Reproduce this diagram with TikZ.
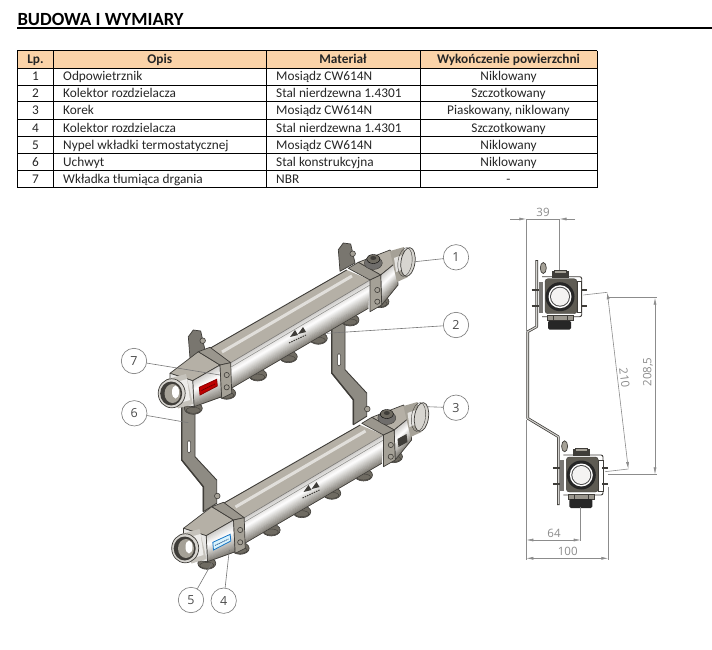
\documentclass[tikz,border=0pt]{standalone}
\usepackage{fontspec}
\setmainfont{Carlito}
\newfontfamily\dimfont{Open Sans}
\usetikzlibrary{calc,arrows.meta}
\definecolor{hdr}{HTML}{FBD3A8}
\definecolor{steelD}{HTML}{6F6B62}
\definecolor{steelT}{HTML}{B5B0A6}
\definecolor{steelM}{HTML}{A5A197}
\definecolor{edgeD}{HTML}{3F3D39}
\definecolor{plateC}{HTML}{8E8B83}
\definecolor{dimC}{HTML}{8C8C8C}
\definecolor{leadC}{HTML}{777777}
\tikzset{
  cell/.style={font=\fontsize{13.3}{15}\selectfont,inner sep=0pt,text=black!85,anchor=base},
  cellleft/.style={cell,anchor=base west},
  cellh/.style={cell,font=\fontsize{13.3}{15}\selectfont\bfseries},
  callout/.style={circle,draw=leadC,line width=0.6pt,fill=white,minimum size=25.4pt,inner sep=0pt,font=\dimfont\fontsize{12.5}{14}\selectfont,text=black!70},
  leader/.style={draw=leadC,line width=0.6pt},
  dimline/.style={draw=dimC,line width=0.6pt},
  dimarrow/.style={dimline,-{Latex[length=7pt,width=3pt]}},
  dimtext/.style={font=\dimfont\fontsize{11.5}{13}\selectfont,text=black!45,inner sep=0pt},
  edge3d/.style={draw=edgeD,line width=0.7pt,line join=round},
  bolt/.style={draw=edgeD,fill=steelM,line width=0.6pt},
}
% metal gradient across a slanted band
\newcommand\bandfill[4]{%
  \foreach \i in {0,...,23}{%
    \pgfmathsetmacro\ta{\i/24}%
    \pgfmathsetmacro\tb{(\i+1.3)/24}%
    \pgfmathsetmacro\pct{\ta<0.35 ? 65+35*\ta/0.35 : 100-90*(\ta-0.35)/0.65}%
    \fill[white!\pct!steelD] ($#1!\ta!#4$) -- ($#2!\ta!#3$) -- ($#2!\tb!#3$) -- ($#1!\tb!#4$) -- cycle;
  }%
}
% wall bracket (front position)
\newcommand\bracketpart{%
  \path[edge3d,fill=plateC,line width=0.9pt] (181.7,405) -- (195,405) -- (195,456.7) -- (216.7,480) -- (216.7,503.3) -- (203.3,511.7) -- (203.3,486.7) -- (181.7,460) -- cycle;
  \draw[edgeD,line width=1.4pt] (181.7,405) -- (181.7,460) -- (203.3,486.7) -- (203.3,511.7);
  \path[fill=white,draw=edgeD,line width=0.5pt,rounded corners=1.5pt] (187.5,440.5) rectangle (190.5,453);
  \path[edge3d,fill=plateC!85!black] (188.3,336.7) -- (193.3,330) -- (200.7,331) -- (205,350) -- (190,358.3) -- cycle;
  \path[bolt] (202.7,340.7) circle[radius=2.8pt];
  \path[bolt] (217.3,496) circle[radius=2.8pt];
}
% #1 label fill, #2 label outline
\newcommand\manifold[2]{%
  % outlets
  \foreach \ox/\oy in {193.3/408.3,226.7/393.3,257.7/375,288.3/356.7,318.3/338.3,350/320,380/301.7}{%
    \path[draw=edgeD,fill=steelD,line width=0.6pt] (\ox,\oy) ellipse[x radius=9pt,y radius=6pt];
    \path[draw=edgeD,line width=0.4pt] (\ox,\oy+2) ellipse[x radius=7pt,y radius=3pt];
  }
  % tube
  \path[fill=steelT] (210,348.3) -- (346.7,270) -- (370,280) -- (230.7,362.7) -- cycle;
  \draw[white!60!steelT,line width=3pt] (222,352) -- (352,276);
  \bandfill{(230.7,362.7)}{(370,280)}{(368.3,308.3)}{(231.7,388)}
  \draw[edgeD,line width=0.9pt] (210,348.3) -- (346.7,270);
  \draw[edgeD!70,line width=0.6pt] (230.7,362.7) -- (370,280);
  \draw[edgeD!60,line width=0.5pt] (231,367) -- (370,285);
  \draw[edgeD,line width=0.6pt] (231.7,388) -- (368.3,308.3);
  % logo
  \fill[edgeD] (290,337) -- (295,330) -- (298,335) -- cycle;
  \fill[edgeD] (298,334) -- (303,327) -- (306,332) -- cycle;
  \draw[edgeD,line width=1pt,dash pattern=on 1.5pt off 1pt] (289,343) -- (306,335);
  % rear box
  \path[edge3d,fill=steelT] (358.3,262.3) -- (390,250) -- (397,261.7) -- (380.7,275) -- cycle;
  \bandfill{(380.7,275)}{(397,261.7)}{(398,285)}{(381.7,305)}
  \path[edge3d] (380.7,275) -- (397,261.7) -- (398,285) -- (381.7,305) -- cycle;
  % rear port
  \path[fill=steelM] (390,251) -- (404,247) -- (408,277) -- (397,282) -- cycle;
  \fill[white!70!steelM] (394,258) -- (405,254) -- (406,268) -- (396,272) -- cycle;
  \path[draw=edgeD,fill=white!55!steelM,line width=0.7pt,rotate around={-8:(408,262)}] (408,262) ellipse[x radius=7pt,y radius=14.5pt];
  \path[draw=edgeD,line width=0.4pt,rotate around={-8:(405,262)}] (405,262) ellipse[x radius=7pt,y radius=14.5pt];
  % rear collar
  \path[edge3d,fill=steelT!85!black] (348.3,268.3) -- (358.3,262.3) -- (380.7,275) -- (370,280) -- cycle;
  \path[edge3d,fill=steelM] (370,280) -- (380.7,275) -- (381.7,305) -- (370,311.7) -- cycle;
  \path[bolt] (377.3,290) circle[radius=2.6pt];
  \path[bolt] (377.3,301.7) circle[radius=2.6pt];
  % bleed valve
  \path[draw=edgeD,fill=edgeD!75] (373.3,263) ellipse[x radius=9pt,y radius=6.5pt];
  \path[draw=black,fill=steelD] (373.3,259) ellipse[x radius=6.5pt,y radius=4.5pt];
  \path[fill=edgeD] (373.3,258) ellipse[x radius=3pt,y radius=2pt];
  % front box
  \path[edge3d,fill=steelT] (170,373.3) -- (198.3,351.7) -- (220,365) -- (192.7,380.7) -- cycle;
  \bandfill{(192.7,380.7)}{(220,365)}{(221.7,396.7)}{(194,406.7)}
  \path[edge3d] (192.7,380.7) -- (220,365) -- (221.7,396.7) -- (194,406.7) -- cycle;
  \path[edge3d,fill=white!75!steelM] (170,373.3) -- (192.7,380.7) -- (194,406.7) -- (178.3,405) -- (170,386.7) -- cycle;
  % label
  \path[draw=#2,fill=#1,line width=0.8pt] (199.3,387.3) -- (216.7,379.3) -- (217.3,386) -- (200,395) -- cycle;
  \draw[#2!70!black,line width=0.8pt,dash pattern=on 1.4pt off 0.6pt] (201.5,390.5) -- (215,384);
  % front port
  \fill[white!35!steelM] (166,379.5) -- (186,374) -- (193,404) -- (178,408.5) -- cycle;
  \fill[white!80!steelM] (180,381) -- (187,379) -- (190,400) -- (183,402) -- cycle;
  \path[draw=edgeD,fill=white!55!steelM,line width=0.7pt] (171.7,393.3) ellipse[x radius=13.5pt,y radius=14.5pt];
  \path[fill=edgeD] (171.2,393.5) ellipse[x radius=11pt,y radius=12pt];
  \path[fill=steelM] (172.5,393.5) ellipse[x radius=8pt,y radius=9.5pt];
  \path[fill=white] (175.5,392) ellipse[x radius=3.5pt,y radius=6.5pt];
  % front collar
  \path[edge3d,fill=steelT!85!black] (198.3,351.7) -- (210,347.3) -- (230.7,362.7) -- (220,365) -- cycle;
  \path[edge3d,fill=steelM] (220,365) -- (230.7,362.7) -- (231.7,393.3) -- (221.7,398.3) -- cycle;
  \path[bolt] (226.7,375) circle[radius=2.6pt];
  \path[bolt] (226.7,387.3) circle[radius=2.6pt];
}
% end view
\newcommand\profileview{%
  \path[draw=edgeD,fill=white,line width=0.9pt,rounded corners=2pt] (-18,-20) -- (21.7,-20) -- (21.7,20) -- (-18,20);
  \path[fill=steelD!85!black,draw=edgeD,rounded corners=3pt] (-15,-18) rectangle (17,17);
  \path[fill=white,draw=edgeD,line width=0.5pt] (17,-15) rectangle (21.7,16);
  \path[fill=edgeD!70] (-21.5,-15) rectangle (-17,16);
  \foreach \by in {-7,9}{%
    \draw[edgeD,line width=1.8pt] (21,\by) -- (27,\by);
    \draw[edgeD,line width=1.8pt] (-28.5,\by) -- (-21,\by);
  }
  \path[fill=black!85] (0,0) circle[radius=14.5pt];
  \path[fill=white] (0,0) circle[radius=11.5pt];
  \path[fill=black!70] (0,0) circle[radius=10pt];
  \path[fill=white!85!steelT] (0,0) circle[radius=9pt];
  \path[fill=steelT!85!black,draw=edgeD,line width=0.6pt] (-13,19) rectangle (13,24);
  \draw[edgeD,line width=0.5pt] (-7,19) -- (-7,24) (7,19) -- (7,24);
  \path[fill=black!85,rounded corners=1.5pt] (-12,24) rectangle (11,33);
  \path[fill=edgeD,draw=edgeD] (-8,-26) rectangle (8,-20);
  \path[fill=steelM,draw=edgeD,line width=0.4pt] (-6,-27) rectangle (6,-24);
  \path[fill=steelM,draw=edgeD,line width=0.7pt] (-16.7,-28.7) ellipse[x radius=3pt,y radius=5.5pt];
}
\begin{document}
\begin{tikzpicture}[x=1pt,y=-1pt]
\useasboundingbox (0,0) rectangle (712,650);
\fill[white] (0,0) rectangle (712,650);
% heading
\node[anchor=base west,inner sep=0pt,font=\fontsize{18.6}{20}\selectfont\bfseries] (title) at (17.3,26) {BUDOWA I WYMIARY};
\coordinate (ruleL) at (17.3,28);
\coordinate (ruleR) at (712,28);
\draw[black,line width=1.6pt] (ruleL) -- (ruleR);
% table
\fill[hdr] (17.3,50.7) rectangle (597,68);
\foreach \yy in {50.7,68,85,101.7,119.3,136.3,153.7,170.7,187.7}{\draw[black,line width=0.7pt] (17.3,\yy) -- (597,\yy);}
\foreach \xx in {17.3,53.6,266,420,597}{\draw[black,line width=0.7pt] (\xx,50.7) -- (\xx,187.7);}
\node[cellh] (h1) at (35.5,64) {Lp.};
\node[cellh] (h2) at (159.8,64) {Opis};
\node[cellh] (h3) at (343,64) {Materiał};
\node[cellh] (h4) at (508.5,64) {Wykończenie powierzchni};
\foreach \rr/\yy/\va/\vb/\vc/\vd in {%
 1/81/1/Odpowietrznik/Mosiądz CW614N/Niklowany,
 2/98/2/Kolektor rozdzielacza/Stal nierdzewna 1.4301/Szczotkowany,
 3/115/3/Korek/Mosiądz CW614N/{Piaskowany, niklowany},
 4/132/4/Kolektor rozdzielacza/Stal nierdzewna 1.4301/Szczotkowany,
 5/149.5/5/Nypel wkładki termostatycznej/Mosiądz CW614N/Niklowany,
 6/166.7/6/Uchwyt/Stal konstrukcyjna/Niklowany,
 7/183.7/7/Wkładka tłumiąca drgania/NBR/-}{%
  \node[cell] (r\rr a) at (35.5,\yy) {\va};
  \node[cellleft] (r\rr b) at (63,\yy) {\vb};
  \node[cellleft] (r\rr c) at (276,\yy) {\vc};
  \node[cell] (r\rr d) at (508.5,\yy) {\vd};
}
% brackets
\begin{scope}[shift={(150,-87)}]\bracketpart\end{scope}
\bracketpart
% manifolds
\manifold{red!75!black}{red!55!black}
\begin{scope}[shift={(13.5,155)}]
  \manifold{white!85!cyan}{cyan!55!blue}
  \path[fill=edgeD] (384,284) -- (393,279) -- (394,287) -- (385,292) -- cycle;
\end{scope}
% callouts
\node[callout] (c1) at (456,257.3) {1};
\node[callout] (c2) at (456,325) {2};
\node[callout] (c3) at (456,407.7) {3};
\node[callout] (c7) at (134,361) {7};
\node[callout] (c6) at (134.3,413.3) {6};
\node[callout] (c5) at (191,600) {5};
\node[callout] (c4) at (223.7,600.7) {4};
\coordinate (e1) at (415,261.7);
\coordinate (e2) at (326.7,333.3);
\coordinate (e3) at (426.7,406.7);
\coordinate (e7) at (220,375);
\coordinate (e6) at (188.3,422.7);
\coordinate (e5) at (211.7,563.3);
\coordinate (e4) at (229.3,550);
\foreach \n in {1,...,7}{\draw[leader] (c\n) -- (e\n);}
% end views
\draw[edgeD,line width=2.6pt,line join=round] (536.7,260) -- (536.7,326.7) -- (527.7,331.7) -- (527.7,418.3) -- (558.3,436.7) -- (558.3,505);
\draw[white!60!plateC,line width=1.1pt,line join=round] (536.7,261) -- (536.7,326.7) -- (527.7,331.7) -- (527.7,418.3) -- (558.3,436.7) -- (558.3,504);
\begin{scope}[shift={(560,296.7)}]\profileview\end{scope}
\begin{scope}[shift={(581.3,475)}]\profileview\end{scope}
% dimensions
\coordinate (a39) at (526.3,219);
\coordinate (b39) at (559.5,219);
\coordinate (a39o) at (510,219);
\coordinate (b39o) at (575,219);
\draw[dimline] (a39) -- (b39);
\draw[dimarrow] (a39o) -- (a39);
\draw[dimarrow] (b39o) -- (b39);
\draw[dimline] (a39) -- (526.3,331);
\draw[dimline] (b39) -- (559.5,270);
\node[dimtext] (t39) at (543,212) {39};
\coordinate (u210) at (607.3,292.3);
\coordinate (l210) at (628.3,469);
\draw[dimline] (583.3,295) -- (u210);
\draw[dimline] (605,471.7) -- (l210);
\draw[dimarrow] (617.8,380.6) -- (u210);
\draw[dimarrow] (617.8,380.6) -- (l210);
\node[dimtext,rotate=-83] (t210) at (624.5,378) {210};
\coordinate (u208) at (655,297.7);
\coordinate (l208) at (655,474.4);
\draw[dimline] (608,297.7) -- (657,297.7);
\draw[dimline] (608,474.4) -- (657,474.4);
\draw[dimarrow] (655,386) -- (u208);
\draw[dimarrow] (655,386) -- (l208);
\node[dimtext,rotate=90] (t208) at (648,372) {208,5};
\coordinate (a64) at (526.3,540);
\coordinate (b64) at (580.7,540);
\coordinate (a100) at (526.3,558.3);
\coordinate (b100) at (608.3,558.3);
\draw[dimline] (526.3,420) -- (526.3,560);
\draw[dimline] (580.7,507) -- (580.7,541);
\draw[dimline] (608.3,486.7) -- (608.3,560);
\draw[dimarrow] (554,540) -- (a64);
\draw[dimarrow] (554,540) -- (b64);
\draw[dimarrow] (567,558.3) -- (a100);
\draw[dimarrow] (567,558.3) -- (b100);
\node[dimtext] (t64) at (554,533.3) {64};
\node[dimtext] (t100) at (567.7,551.7) {100};
\end{tikzpicture}
\end{document}
